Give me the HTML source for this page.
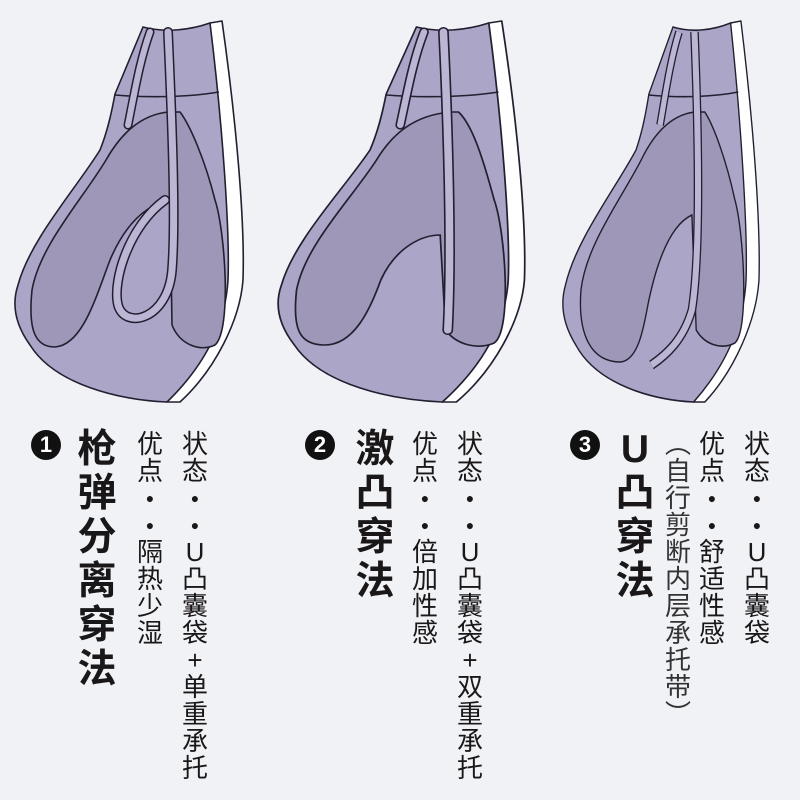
<!DOCTYPE html>
<html><head><meta charset="utf-8"><style>
body{margin:0;width:800px;height:800px;background:#f0f2f6;position:relative;overflow:hidden;font-family:"Liberation Sans","Noto Sans CJK SC",sans-serif;color:#1a1718}
.col{position:absolute;display:flex;flex-direction:column;align-items:center}
.col span{display:block;text-align:center}
.s span{font-size:26px;height:27px;line-height:27px;width:30px}
.t span{font-size:39px;height:44px;line-height:44px;width:44px;font-weight:bold}
.s span.d{font-size:14px;font-weight:bold}
.c{position:absolute;width:30px;height:30px;border-radius:50%;background:#111;color:#fff;font-weight:bold;font-size:22px;line-height:30px;text-align:center}
</style></head><body>
<svg width="800" height="420" style="position:absolute;left:0;top:0">
<defs>
<g id="base" stroke="#231f30" stroke-width="1.6" stroke-linejoin="round">
<path d="M210,23 L222,21 C236,120 245,220 243,280 C240,320 215,370 180,402 L167,402 Z" fill="#fff"/>
<path d="M143,27 C165,33 190,30 210,23 C222,120 230,230 228,280 C225,330 200,370 167,402 C120,400 55,385 30,345 C12,320 13,300 18,285 C30,240 75,190 100,150 C108,130 112,110 115,94 L143,27 Z" fill="#aba6c8"/>
<path d="M115,95 C150,98 190,97 219,92" fill="none"/>
</g>
</defs>
<!-- pouch 1 -->
<g>
<use href="#base"/>
<g stroke="#231f30" stroke-width="1.6" fill="#9e97b8">
<path d="M168,112 C140,115 120,135 106,160 C82,200 40,245 32,290 C28,330 35,347 55,347 C82,345 95,300 110,260 C125,225 145,205 170,200 L172,325 C180,345 200,352 215,345 C232,330 225,230 215,200 C205,160 190,125 180,112 Z"/>
</g>
<g fill="none" stroke-linecap="round">
<path d="M150,32 C140,60 135,90 128,125" stroke="#231f30" stroke-width="9"/>
<path d="M150,32 C140,60 135,90 128,125" stroke="#bcb5d4" stroke-width="6"/>
<path d="M168,32 C172,120 176,220 172,270 C168,320 125,330 118,305 C112,280 130,225 165,200" stroke="#231f30" stroke-width="10"/>
<path d="M168,32 C172,120 176,220 172,270 C168,320 125,330 118,305 C112,280 130,225 165,200" stroke="#bcb5d4" stroke-width="7"/>
</g>
</g>
<!-- pouch 2 -->
<g transform="translate(262,0) scale(1.08,1)">
<use href="#base"/>
<g stroke="#231f30" stroke-width="1.6" fill="#9e97b8">
<path d="M175,112 C140,115 120,135 106,160 C82,200 40,245 32,290 C28,330 35,345 58,345 C85,345 100,310 110,280 C125,245 150,235 165,235 L170,330 C180,345 200,350 215,343 C232,330 225,230 215,200 C205,160 195,125 182,112 Z"/>
</g>
<g fill="none" stroke-linecap="round">
<path d="M150,32 C140,60 135,90 128,125" stroke="#231f30" stroke-width="9"/>
<path d="M150,32 C140,60 135,90 128,125" stroke="#bcb5d4" stroke-width="6"/>
<path d="M168,32 C172,120 176,250 172,330" stroke="#231f30" stroke-width="10"/>
<path d="M168,32 C172,120 176,250 172,330" stroke="#bcb5d4" stroke-width="7"/>
</g>
</g>
<!-- pouch 3 -->
<g transform="translate(550,0) scale(0.86,1)">
<use href="#base"/>
<g stroke="#231f30" stroke-width="1.6" fill="#9e97b8">
<path d="M168,112 C140,115 120,135 106,160 C82,200 42,245 36,290 C32,335 48,362 82,362 C105,360 110,320 115,300 C125,260 140,225 165,215 L170,330 C180,345 200,350 215,343 C232,330 225,230 215,200 C205,160 190,125 180,112 Z"/>
</g>
<g fill="none" stroke-linecap="butt">
<path d="M150,32 C140,60 135,90 128,125" stroke="#231f30" stroke-width="9"/>
<path d="M150,32 C140,60 135,90 128,125" stroke="#bcb5d4" stroke-width="6"/>
<path d="M168,32 C172,120 176,250 165,310 C155,340 135,355 118,365" stroke="#231f30" stroke-width="10"/>
<path d="M168,32 C172,120 176,250 165,310 C155,340 135,355 118,365" stroke="#bcb5d4" stroke-width="7"/>
</g>
</g>
</svg>

<div class="c" style="left:31px;top:430px">1</div>
<div class="col t" style="left:75px;top:428px"><span>枪</span><span>弹</span><span>分</span><span>离</span><span>穿</span><span>法</span></div>
<div class="col s" style="left:135px;top:431px"><span>优</span><span>点</span><span class="d">●</span><span class="d">●</span><span>隔</span><span>热</span><span>少</span><span>湿</span></div>
<div class="col s" style="left:180px;top:431px"><span>状</span><span>态</span><span class="d">●</span><span class="d">●</span><span>U</span><span>凸</span><span>囊</span><span>袋</span><span>+</span><span>单</span><span>重</span><span>承</span><span>托</span></div>

<div class="c" style="left:305px;top:430px">2</div>
<div class="col t" style="left:353px;top:428px"><span>激</span><span>凸</span><span>穿</span><span>法</span></div>
<div class="col s" style="left:410px;top:431px"><span>优</span><span>点</span><span class="d">●</span><span class="d">●</span><span>倍</span><span>加</span><span>性</span><span>感</span></div>
<div class="col s" style="left:455px;top:431px"><span>状</span><span>态</span><span class="d">●</span><span class="d">●</span><span>U</span><span>凸</span><span>囊</span><span>袋</span><span>+</span><span>双</span><span>重</span><span>承</span><span>托</span></div>

<div class="c" style="left:570px;top:430px">3</div>
<div class="col t" style="left:613px;top:428px"><span>U</span><span>凸</span><span>穿</span><span>法</span></div>
<div class="col s" style="left:663px;top:431px;color:#333"><span>︵</span><span>自</span><span>行</span><span>剪</span><span>断</span><span>内</span><span>层</span><span>承</span><span>托</span><span>带</span><span>︶</span></div>
<div class="col s" style="left:697px;top:431px"><span>优</span><span>点</span><span class="d">●</span><span class="d">●</span><span>舒</span><span>适</span><span>性</span><span>感</span></div>
<div class="col s" style="left:742px;top:431px"><span>状</span><span>态</span><span class="d">●</span><span class="d">●</span><span>U</span><span>凸</span><span>囊</span><span>袋</span></div>
</body></html>
